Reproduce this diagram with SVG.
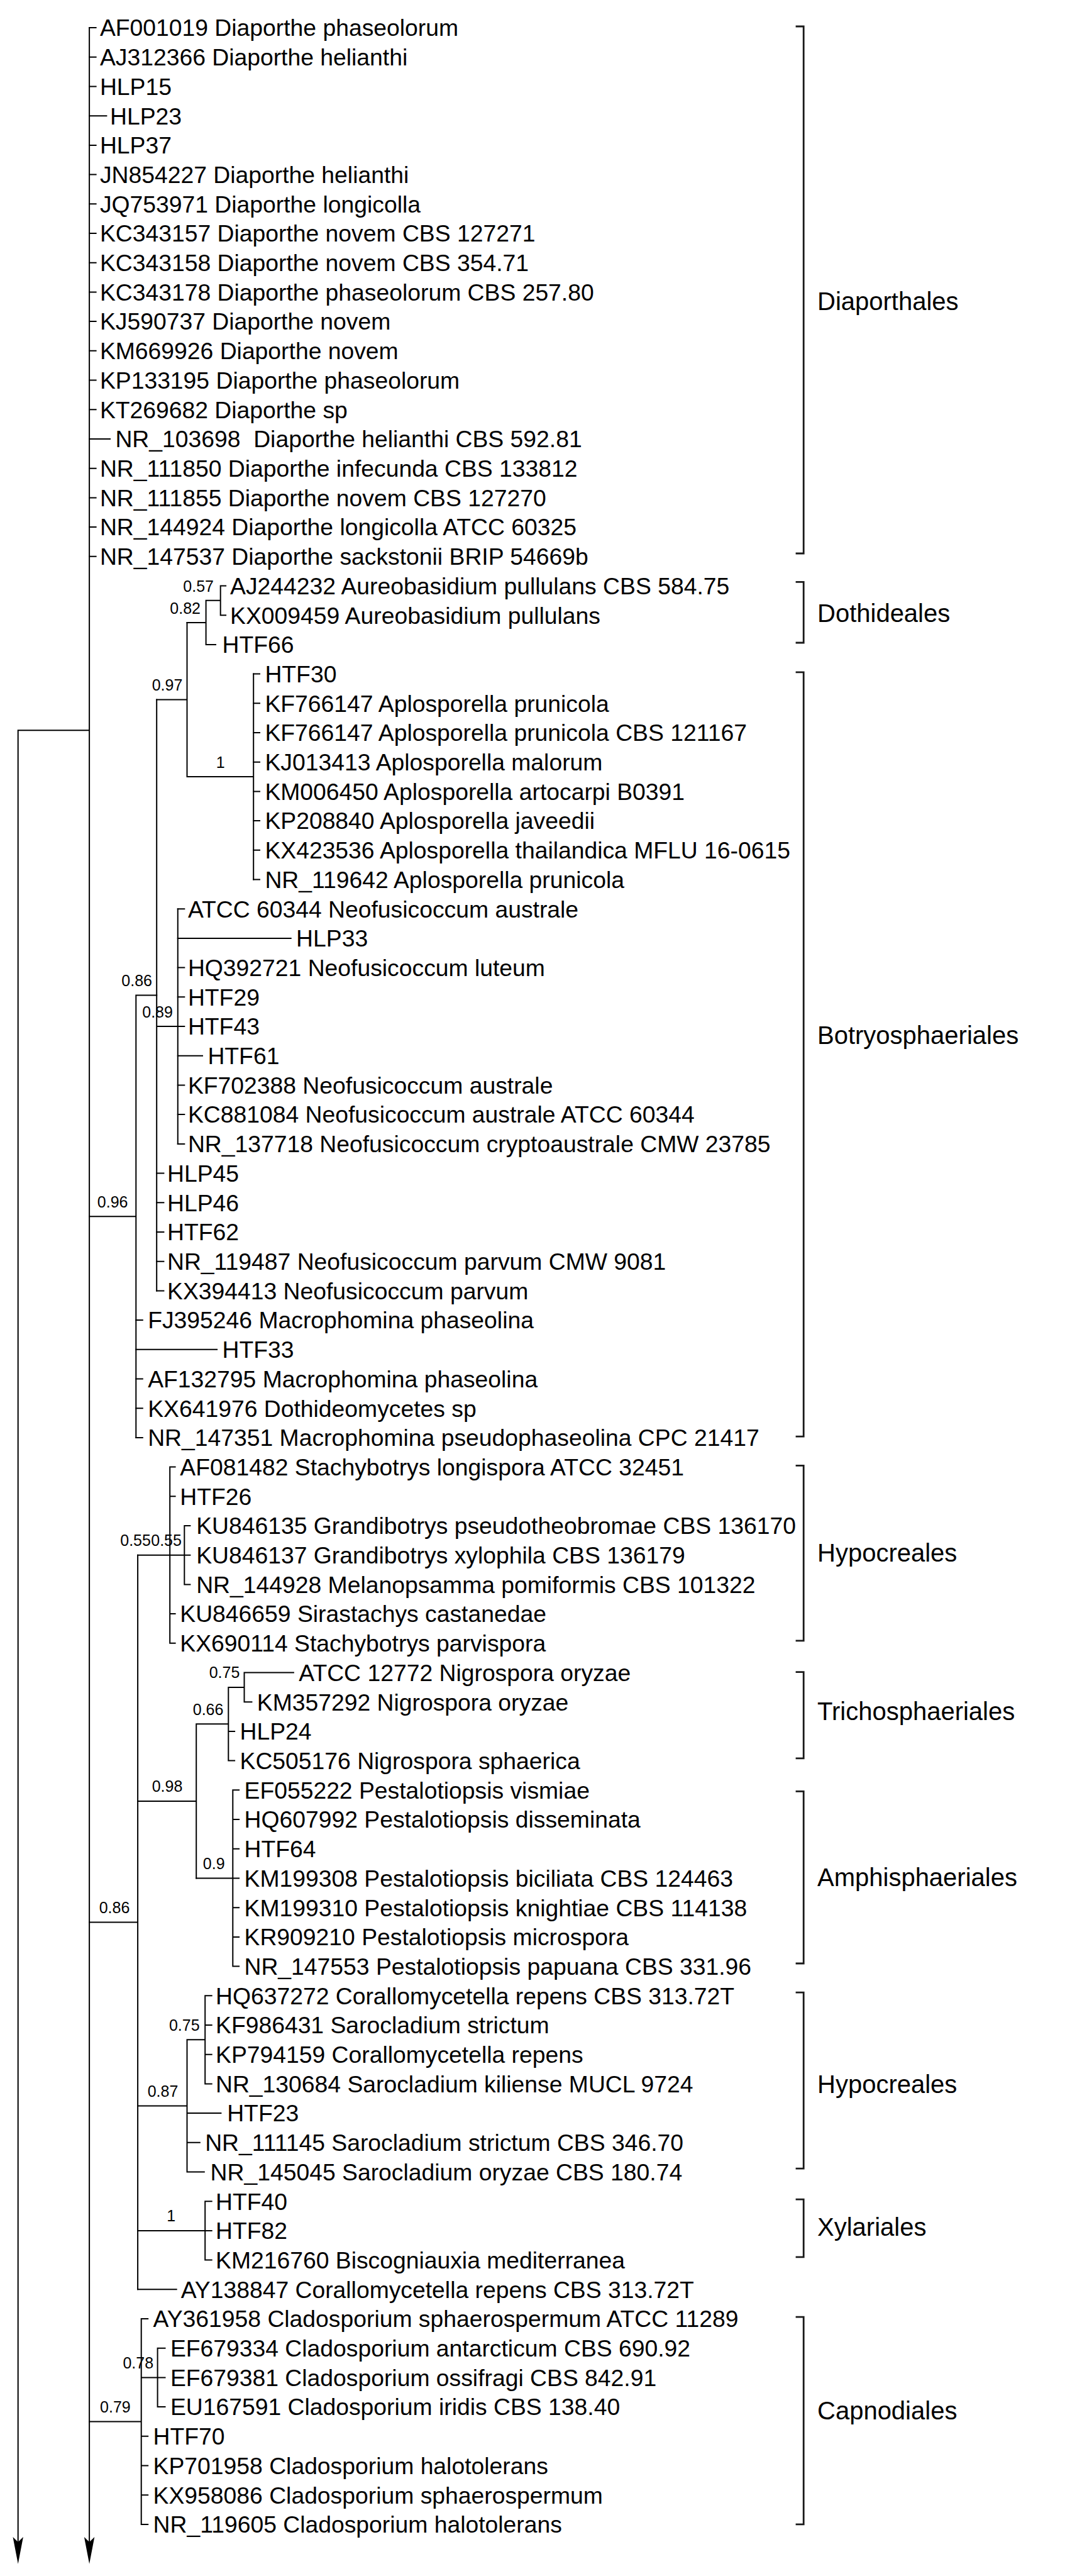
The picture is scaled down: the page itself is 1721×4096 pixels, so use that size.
<svg xmlns="http://www.w3.org/2000/svg" width="1721" height="4096" viewBox="0 0 1721 4096">
<style>
text{font-family:"Liberation Sans",Arial,sans-serif;fill:#000}
.t{font-size:37.3px}
.s{font-size:25px;text-anchor:middle}
.c{font-size:40px}
.e{fill:none;stroke:#000;stroke-width:2;stroke-linecap:square}
.b{fill:none;stroke:#1a1a1a;stroke-width:2.8}
.a{fill:#000;stroke:none}
</style>
<rect width="1721" height="4096" fill="#fff"/>
<g id="connectors" class="e">
<path d="M142.1 44.1V4045M28.7 1161.3V4045M28.7 1161.3H142.1"/>
<path d="M142.1 44.1H152.6M142.1 90.8H152.6M142.1 137.5H152.6M142.1 184.2H169.4M142.1 230.9H152.6M142.1 277.6H152.6M142.1 324.3H152.6M142.1 371H152.6M142.1 417.7H152.6M142.1 464.4H152.6M142.1 511.1H152.6M142.1 557.8H152.6M142.1 604.5H152.6M142.1 651.3H152.6M142.1 698H175M142.1 744.7H152.6M142.1 791.4H152.6M142.1 838.1H152.6M142.1 884.8H152.6"/>
<path d="M297.5 989.9H327.6M327.6 954.8V1024.9M327.6 954.8H350.7M350.7 931.5V978.2M350.7 931.5H359.1M350.7 978.2H359.1M327.6 1024.9H343"/>
<path d="M297.5 989.9V1235M249.2 1112.5H297.5M297.5 1235H403.2M403.2 1071.6V1398.5"/>
<path d="M403.2 1071.6H413M403.2 1118.3H413M403.2 1165H413M403.2 1211.7H413M403.2 1258.4H413M403.2 1305.1H413M403.2 1351.8H413M403.2 1398.5H413"/>
<path d="M249.2 1112.5V2052.4M249.2 1632H282.8M282.8 1445.2V1818.9"/>
<path d="M282.8 1445.2H293.3M282.8 1491.9H462.7M282.8 1538.6H293.3M282.8 1585.3H293.3M282.8 1632H293.3M282.8 1678.7H322M282.8 1725.4H293.3M282.8 1772.1H293.3M282.8 1818.9H293.3"/>
<path d="M249.2 1865.6H260.4M249.2 1912.3H260.4M249.2 1959H260.4M249.2 2005.7H260.4M249.2 2052.4H260.4"/>
<path d="M216.3 1582.4H249.2M216.3 1582.4V2285.9M142.1 1934.2H216.3"/>
<path d="M216.3 2099.1H226.8M216.3 2145.8H345.1M216.3 2192.5H226.8M216.3 2239.2H226.8M216.3 2285.9H226.8"/>
<path d="M142.1 3056.5H219.1M219.1 2472.7V3640.3"/>
<path d="M219.1 2472.7H270.2M270.2 2332.6V2612.8M270.2 2332.6H278.6M270.2 2379.3H278.6M270.2 2566.1H278.6M270.2 2612.8H278.6M270.2 2472.7H293.3M293.3 2426V2519.4M293.3 2426H302.4M293.3 2472.7H302.4M293.3 2519.4H302.4"/>
<path d="M219.1 2863.9H312.2M312.2 2741.3V2986.5M312.2 2741.3H363.3M363.3 2682.9V2799.6M363.3 2682.9H388.5M388.5 2659.5V2706.2M388.5 2659.5H466.9M388.5 2706.2H400.4M363.3 2752.9H373.1M363.3 2799.6H373.1"/>
<path d="M312.2 2986.5H370.3M370.3 2846.3V3126.6M370.3 2846.3H380.1M370.3 2893H380.1M370.3 2939.7H380.1M370.3 2986.5H380.1M370.3 3033.2H380.1M370.3 3079.9H380.1M370.3 3126.6H380.1"/>
<path d="M219.1 3348.4H297.5M297.5 3243.3V3453.5M297.5 3243.3H326.2M326.2 3173.3V3313.4M326.2 3173.3H336.7M326.2 3220H336.7M326.2 3266.7H336.7M326.2 3313.4H336.7M297.5 3360.1H351.4M297.5 3406.8H317.8M297.5 3453.5H324.8"/>
<path d="M219.1 3546.9H326.2M326.2 3500.2V3593.6M326.2 3500.2H336.7M326.2 3546.9H336.7M326.2 3593.6H336.7M219.1 3640.3H280.7"/>
<path d="M142.1 3850.5H224.7M224.7 3687V4013.9M224.7 3687H235.2M224.7 3780.4H250.6M250.6 3733.7V3827.1M250.6 3733.7H262.5M250.6 3780.4H262.5M250.6 3827.1H262.5M224.7 3873.8H235.2M224.7 3920.5H235.2M224.7 3967.2H235.2M224.7 4013.9H235.2"/>
<path class="a" d="M28.7 4076.8L20.5 4034L28.7 4042L36.9 4034Z"/>
<path class="a" d="M142.1 4076.8L133.9 4034L142.1 4042L150.3 4034Z"/>
</g>
<g id="support" class="s">
<text class="s" x="315.7" y="940.5">0.57</text>
<text class="s" x="294.7" y="975.5">0.82</text>
<text class="s" x="266" y="1098">0.97</text>
<text class="s" x="350.7" y="1220.5">1</text>
<text class="s" x="217.7" y="1567.9">0.86</text>
<text class="s" x="250.6" y="1617.5">0.89</text>
<text class="s" x="179.2" y="1919.7">0.96</text>
<text class="s" x="215.6" y="2458.2">0.55</text>
<text class="s" x="264.6" y="2458.2">0.55</text>
<text class="s" x="357" y="2668.4">0.75</text>
<text class="s" x="331.1" y="2726.8">0.66</text>
<text class="s" x="266" y="2849.4">0.98</text>
<text class="s" x="340.2" y="2972">0.9</text>
<text class="s" x="182" y="3042">0.86</text>
<text class="s" x="293.3" y="3228.8">0.75</text>
<text class="s" x="259" y="3333.9">0.87</text>
<text class="s" x="272.3" y="3532.4">1</text>
<text class="s" x="219.8" y="3765.9">0.78</text>
<text class="s" x="183.4" y="3836">0.79</text>
</g>
<g id="leaves">
<g id="n0"><text class="t" x="158.9" y="57.4">AF001019 Diaporthe phaseolorum</text></g>
<g id="n1"><text class="t" x="158.9" y="104.1">AJ312366 Diaporthe helianthi</text></g>
<g id="n2"><text class="t" x="158.9" y="150.8">HLP15</text></g>
<g id="n3"><text class="t" x="175" y="197.5">HLP23</text></g>
<g id="n4"><text class="t" x="158.9" y="244.2">HLP37</text></g>
<g id="n5"><text class="t" x="158.9" y="290.9">JN854227 Diaporthe helianthi</text></g>
<g id="n6"><text class="t" x="158.9" y="337.6">JQ753971 Diaporthe longicolla</text></g>
<g id="n7"><text class="t" x="158.9" y="384.3">KC343157 Diaporthe novem CBS 127271</text></g>
<g id="n8"><text class="t" x="158.9" y="431">KC343158 Diaporthe novem CBS 354.71</text></g>
<g id="n9"><text class="t" x="158.9" y="477.7">KC343178 Diaporthe phaseolorum CBS 257.80</text></g>
<g id="n10"><text class="t" x="158.9" y="524.4">KJ590737 Diaporthe novem</text></g>
<g id="n11"><text class="t" x="158.9" y="571.1">KM669926 Diaporthe novem</text></g>
<g id="n12"><text class="t" x="158.9" y="617.8">KP133195 Diaporthe phaseolorum</text></g>
<g id="n13"><text class="t" x="158.9" y="664.6">KT269682 Diaporthe sp</text></g>
<g id="n14"><text class="t" x="183.4" y="711.3" xml:space="preserve">NR_103698  Diaporthe helianthi CBS 592.81</text></g>
<g id="n15"><text class="t" x="158.9" y="758">NR_111850 Diaporthe infecunda CBS 133812</text></g>
<g id="n16"><text class="t" x="158.9" y="804.7">NR_111855 Diaporthe novem CBS 127270</text></g>
<g id="n17"><text class="t" x="158.9" y="851.4">NR_144924 Diaporthe longicolla ATCC 60325</text></g>
<g id="n18"><text class="t" x="158.9" y="898.1">NR_147537 Diaporthe sackstonii BRIP 54669b</text></g>
<g id="n19"><text class="t" x="366.1" y="944.8">AJ244232 Aureobasidium pullulans CBS 584.75</text></g>
<g id="n20"><text class="t" x="366.1" y="991.5">KX009459 Aureobasidium pullulans</text></g>
<g id="n21"><text class="t" x="353.5" y="1038.2">HTF66</text></g>
<g id="n22"><text class="t" x="421.4" y="1084.9">HTF30</text></g>
<g id="n23"><text class="t" x="421.4" y="1131.6">KF766147 Aplosporella prunicola</text></g>
<g id="n24"><text class="t" x="421.4" y="1178.3">KF766147 Aplosporella prunicola CBS 121167</text></g>
<g id="n25"><text class="t" x="421.4" y="1225">KJ013413 Aplosporella malorum</text></g>
<g id="n26"><text class="t" x="421.4" y="1271.7">KM006450 Aplosporella artocarpi B0391</text></g>
<g id="n27"><text class="t" x="421.4" y="1318.4">KP208840 Aplosporella javeedii</text></g>
<g id="n28"><text class="t" x="421.4" y="1365.1">KX423536 Aplosporella thailandica MFLU 16-0615</text></g>
<g id="n29"><text class="t" x="421.4" y="1411.8">NR_119642 Aplosporella prunicola</text></g>
<g id="n30"><text class="t" x="298.9" y="1458.5">ATCC 60344 Neofusicoccum australe</text></g>
<g id="n31"><text class="t" x="471.1" y="1505.2">HLP33</text></g>
<g id="n32"><text class="t" x="298.9" y="1551.9">HQ392721 Neofusicoccum luteum</text></g>
<g id="n33"><text class="t" x="298.9" y="1598.6">HTF29</text></g>
<g id="n34"><text class="t" x="298.9" y="1645.3">HTF43</text></g>
<g id="n35"><text class="t" x="330.4" y="1692">HTF61</text></g>
<g id="n36"><text class="t" x="298.9" y="1738.7">KF702388 Neofusicoccum australe</text></g>
<g id="n37"><text class="t" x="298.9" y="1785.4">KC881084 Neofusicoccum australe ATCC 60344</text></g>
<g id="n38"><text class="t" x="298.9" y="1832.2">NR_137718 Neofusicoccum cryptoaustrale CMW 23785</text></g>
<g id="n39"><text class="t" x="266" y="1878.9">HLP45</text></g>
<g id="n40"><text class="t" x="266" y="1925.6">HLP46</text></g>
<g id="n41"><text class="t" x="266" y="1972.3">HTF62</text></g>
<g id="n42"><text class="t" x="266" y="2019">NR_119487 Neofusicoccum parvum CMW 9081</text></g>
<g id="n43"><text class="t" x="266" y="2065.7">KX394413 Neofusicoccum parvum</text></g>
<g id="n44"><text class="t" x="235.2" y="2112.4">FJ395246 Macrophomina phaseolina</text></g>
<g id="n45"><text class="t" x="353.5" y="2159.1">HTF33</text></g>
<g id="n46"><text class="t" x="235.2" y="2205.8">AF132795 Macrophomina phaseolina</text></g>
<g id="n47"><text class="t" x="235.2" y="2252.5">KX641976 Dothideomycetes sp</text></g>
<g id="n48"><text class="t" x="235.2" y="2299.2">NR_147351 Macrophomina pseudophaseolina CPC 21417</text></g>
<g id="n49"><text class="t" x="286.3" y="2345.9">AF081482 Stachybotrys longispora ATCC 32451</text></g>
<g id="n50"><text class="t" x="286.3" y="2392.6">HTF26</text></g>
<g id="n51"><text class="t" x="312.2" y="2439.3">KU846135 Grandibotrys pseudotheobromae CBS 136170</text></g>
<g id="n52"><text class="t" x="312.2" y="2486">KU846137 Grandibotrys xylophila CBS 136179</text></g>
<g id="n53"><text class="t" x="312.2" y="2532.7">NR_144928 Melanopsamma pomiformis CBS 101322</text></g>
<g id="n54"><text class="t" x="286.3" y="2579.4">KU846659 Sirastachys castanedae</text></g>
<g id="n55"><text class="t" x="286.3" y="2626.1">KX690114 Stachybotrys parvispora</text></g>
<g id="n56"><text class="t" x="475.3" y="2672.8">ATCC 12772 Nigrospora oryzae</text></g>
<g id="n57"><text class="t" x="408.8" y="2719.5">KM357292 Nigrospora oryzae</text></g>
<g id="n58"><text class="t" x="381.5" y="2766.2">HLP24</text></g>
<g id="n59"><text class="t" x="381.5" y="2812.9">KC505176 Nigrospora sphaerica</text></g>
<g id="n60"><text class="t" x="388.5" y="2859.6">EF055222 Pestalotiopsis vismiae</text></g>
<g id="n61"><text class="t" x="388.5" y="2906.3">HQ607992 Pestalotiopsis disseminata</text></g>
<g id="n62"><text class="t" x="388.5" y="2953">HTF64</text></g>
<g id="n63"><text class="t" x="388.5" y="2999.7">KM199308 Pestalotiopsis biciliata CBS 124463</text></g>
<g id="n64"><text class="t" x="388.5" y="3046.5">KM199310 Pestalotiopsis knightiae CBS 114138</text></g>
<g id="n65"><text class="t" x="388.5" y="3093.2">KR909210 Pestalotiopsis microspora</text></g>
<g id="n66"><text class="t" x="388.5" y="3139.9">NR_147553 Pestalotiopsis papuana CBS 331.96</text></g>
<g id="n67"><text class="t" x="343" y="3186.6">HQ637272 Corallomycetella repens CBS 313.72T</text></g>
<g id="n68"><text class="t" x="343" y="3233.3">KF986431 Sarocladium strictum</text></g>
<g id="n69"><text class="t" x="343" y="3280">KP794159 Corallomycetella repens</text></g>
<g id="n70"><text class="t" x="343" y="3326.7">NR_130684 Sarocladium kiliense MUCL 9724</text></g>
<g id="n71"><text class="t" x="361.2" y="3373.4">HTF23</text></g>
<g id="n72"><text class="t" x="326.2" y="3420.1">NR_111145 Sarocladium strictum CBS 346.70</text></g>
<g id="n73"><text class="t" x="334.6" y="3466.8">NR_145045 Sarocladium oryzae CBS 180.74</text></g>
<g id="n74"><text class="t" x="343" y="3513.5">HTF40</text></g>
<g id="n75"><text class="t" x="343" y="3560.2">HTF82</text></g>
<g id="n76"><text class="t" x="343" y="3606.9">KM216760 Biscogniauxia mediterranea</text></g>
<g id="n77"><text class="t" x="287.7" y="3653.6">AY138847 Corallomycetella repens CBS 313.72T</text></g>
<g id="n78"><text class="t" x="243.6" y="3700.3">AY361958 Cladosporium sphaerospermum ATCC 11289</text></g>
<g id="n79"><text class="t" x="270.9" y="3747">EF679334 Cladosporium antarcticum CBS 690.92</text></g>
<g id="n80"><text class="t" x="270.9" y="3793.7">EF679381 Cladosporium ossifragi CBS 842.91</text></g>
<g id="n81"><text class="t" x="270.9" y="3840.4">EU167591 Cladosporium iridis CBS 138.40</text></g>
<g id="n82"><text class="t" x="243.6" y="3887.1">HTF70</text></g>
<g id="n83"><text class="t" x="243.6" y="3933.8">KP701958 Cladosporium halotolerans</text></g>
<g id="n84"><text class="t" x="243.6" y="3980.5">KX958086 Cladosporium sphaerospermum</text></g>
<g id="n85"><text class="t" x="243.6" y="4027.2">NR_119605 Cladosporium halotolerans</text></g>
</g>
<g id="clades">
<g id="c1"><path class="b" d="M1265.6 42H1278.2V880H1265.6"/><text class="c" x="1300" y="492.5">Diaporthales</text></g>
<g id="c2"><path class="b" d="M1265.6 925.4H1278.2V1022H1265.6"/><text class="c" x="1300" y="988.8">Dothideales</text></g>
<g id="c3"><path class="b" d="M1265.6 1068.9H1278.2V2284.1H1265.6"/><text class="c" x="1300" y="1660.1">Botryosphaeriales</text></g>
<g id="c4"><path class="b" d="M1265.6 2330.3H1278.2V2608.9H1265.6"/><text class="c" x="1300" y="2482.6">Hypocreales</text></g>
<g id="c5"><path class="b" d="M1265.6 2658.6H1278.2V2795.8H1265.6"/><text class="c" x="1300" y="2735.3">Trichosphaeriales</text></g>
<g id="c6"><path class="b" d="M1265.6 2848.3H1278.2V3122H1265.6"/><text class="c" x="1300" y="2998.5">Amphisphaeriales</text></g>
<g id="c7"><path class="b" d="M1265.6 3168.2H1278.2V3448.2H1265.6"/><text class="c" x="1300" y="3327.5">Hypocreales</text></g>
<g id="c8"><path class="b" d="M1265.6 3497.2H1278.2V3588.9H1265.6"/><text class="c" x="1300" y="3555">Xylariales</text></g>
<g id="c9"><path class="b" d="M1265.6 3684.1H1278.2V4013.8H1265.6"/><text class="c" x="1300" y="3846.9">Capnodiales</text></g>
</g>
</svg>
